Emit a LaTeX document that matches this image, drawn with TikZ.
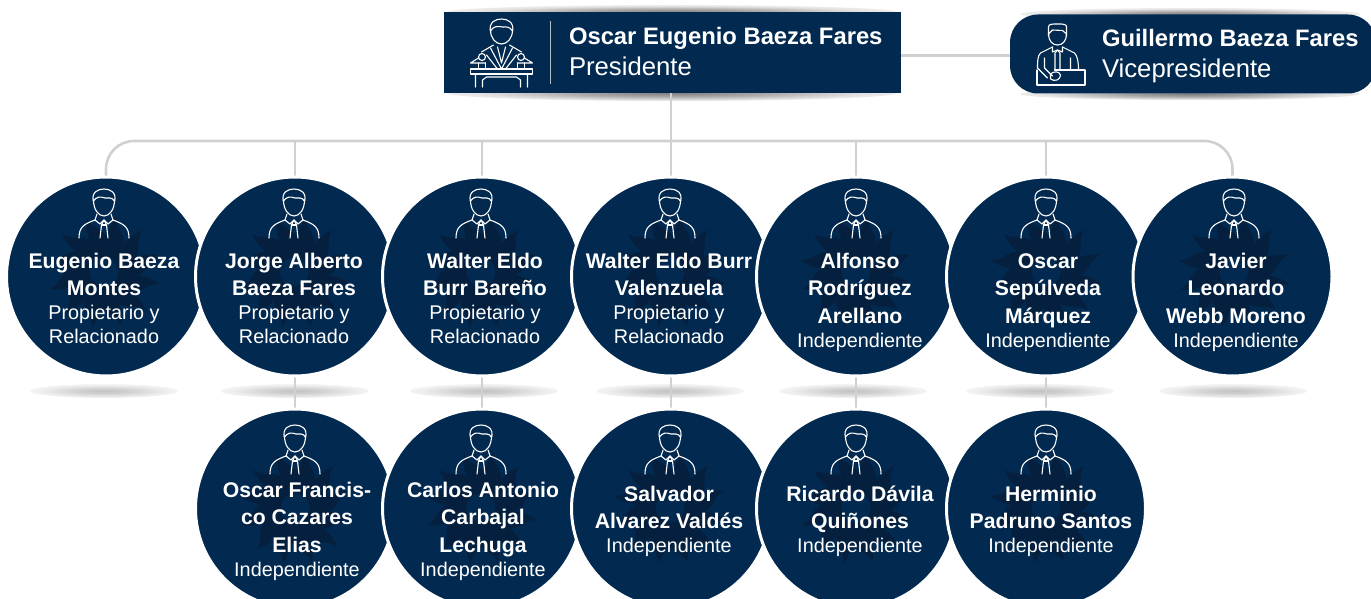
\documentclass[tikz,border=0pt]{standalone}
\usepackage{fontspec}
\setmainfont{Liberation Sans}
\usetikzlibrary{calc}
\definecolor{navy}{RGB}{2,42,80}
\definecolor{navydark}{RGB}{5,32,62}
\definecolor{linegray}{RGB}{208,208,208}
\pgfdeclareradialshading{softshadow}{\pgfpoint{0bp}{0bp}}{color(0bp)=(black!24); color(9bp)=(black!18); color(22bp)=(black!6); color(35bp)=(white); color(50bp)=(white)}
\pgfdeclareradialshading{boxshadow}{\pgfpoint{0bp}{0bp}}{color(0bp)=(black!50); color(10bp)=(black!35); color(22bp)=(black!10); color(35bp)=(white); color(50bp)=(white)}
\pgfdeclarelayer{under}
\pgfsetlayers{under,main}
\newcommand{\nl}[1]{\bfseries\fontsize{21.2}{0}\selectfont\offinterlineskip\rule[-8pt]{0pt}{27.5pt}#1}
\newcommand{\rl}[1]{\fontsize{19.8}{0}\selectfont\offinterlineskip\rule[-8pt]{0pt}{24pt}#1}
\tikzset{
  every picture/.style={x=1pt,y=-1pt},
  member/.style={circle,fill=navy,draw=white,line width=3pt,minimum size=199pt,inner sep=0pt,outer sep=0pt},
  mtext/.style={text=white,align=center,anchor=north,inner sep=0pt,outer sep=0pt,execute at begin node={\offinterlineskip}},
  toptext/.style={text=white,anchor=base west,inner sep=0pt,outer sep=0pt},
  link/.style={draw=linegray,line width=2.6pt},
  iconline/.style={draw=white,line width=1.1pt,line cap=round,line join=round,fill=none},
  softshade/.style={shading=softshadow},
  boxshade/.style={shading=boxshadow},
  pics/person/.style={code={
    \draw[iconline] (-10.5,13) .. controls (-13,3) and (-6,0) .. (0,0) .. controls (6,0) and (13,3) .. (10.5,13);
    \draw[iconline] (-10.5,11) .. controls (-10.5,20) and (-6,27) .. (0,27) .. controls (6,27) and (10.5,20) .. (10.5,11);
    \draw[iconline] (-10.5,12) .. controls (-8,8) and (-4,7) .. (1,9) .. controls (4,9) and (8,8) .. (10.5,12);
    \draw[iconline] (-25,49) .. controls (-25,38) and (-20,35) .. (-9,31);
    \draw[iconline] (25,49) .. controls (25,38) and (20,35) .. (9,31);
    \draw[iconline] (-7,25) -- (-9,31) -- (-4,35) -- (0,31) -- (4,35) -- (9,31) -- (7,25);
    \draw[iconline] (0,31) -- (-2.5,36) -- (-4,49);
    \draw[iconline] (0,31) -- (2.5,36) -- (4,49);
    \draw[iconline] (-2.5,36) -- (2.5,36);
  }},
  pics/sun/.style={code={
    \foreach \a in {0,30,...,330}{
      \fill[navydark,rotate=\a] (-7,-15) .. controls (-12,-26) and (-20,-40) .. (-17,-54)
        .. controls (-13,-45) and (-4,-44) .. (1,-38)
        .. controls (7,-32) and (7,-22) .. (6,-15) -- cycle;
    }
    \draw[navydark,line width=5pt] (0,0) circle[radius=17];
  }},
  pics/speaker/.style={code={
    \draw[iconline] (-11,13) .. controls (-13,3) and (-6,0) .. (0,0) .. controls (6,0) and (13,3) .. (11,13);
    \draw[iconline] (-11,11) .. controls (-11,19) and (-6,25) .. (0,25) .. controls (6,25) and (11,19) .. (11,11);
    \draw[iconline] (-11,12) .. controls (-8,7) and (-4,7) .. (1,8) .. controls (4,8) and (8,7) .. (11,12);
    \draw[iconline] (-31,50) rectangle (31,55);
    \draw[iconline] (-26,55) -- (-26,68) (-19,68) -- (-19,61) -- (-15,58) -- (15,58) -- (19,61) -- (19,68) (26,55) -- (26,68);
    \draw[iconline] (-8,26) -- (-20,33) (8,26) -- (20,33);
    \draw[iconline] (-11,29) -- (0,50) -- (11,29) (-4,28) -- (0,44) -- (4,28) (-15,36) -- (-4,50) (15,36) -- (4,50);
    \draw[iconline] (-19.5,38) circle[radius=3.5] (19.5,38) circle[radius=3.5];
    \draw[iconline] (-23,39) -- (-31,44) -- (-16,44) (23,39) -- (31,44) -- (16,44);
    \draw[iconline] (-23,44) -- (-23,50) (-16,44) -- (-16,50) (23,44) -- (23,50) (16,44) -- (16,50);
  }},
  pics/clerk/.style={code={
    \draw[iconline] (-9,12) -- (-9,3) .. controls (-9,0) and (-6,0) .. (0,0) .. controls (6,0) and (9,0) .. (9,3) -- (9,12);
    \draw[iconline] (-9,10) .. controls (-9,17) and (-5,21) .. (0,21) .. controls (5,21) and (9,17) .. (9,10);
    \draw[iconline] (-9,10) -- (-5,6) -- (5,6.5) -- (9,10);
    \draw[iconline] (-5,23) -- (-17,29) .. controls (-20,32) and (-20,38) .. (-20,44) -- (-10,54);
    \draw[iconline] (5,23) -- (17,29) .. controls (20,32) and (21,38) .. (21,46);
    \draw[iconline] (-5,23) -- (-5,28) -- (0,26) -- (5,28) -- (5,23);
    \draw[iconline] (0,26) -- (-2.5,29) -- (-2.5,46) (0,26) -- (2.5,29) -- (2.5,46);
    \draw[iconline] (-13,34) -- (-13,44) -- (-5,52) (13,34) -- (13,46);
    \draw[iconline] (-3,46) -- (27.5,46) -- (27.5,61) -- (-20.5,61) -- (-20.5,46);
    \draw[iconline] (-7,50) .. controls (-4,47) and (2,47) .. (3,51) .. controls (3,56) and (-3,58) .. (-7,55) -- cycle;
  }}
}
\newcommand{\member}[8]{%
  \node[member] (#1) at (#2,#3) {};
  \pic at (#4,#5) {sun};
  \pic at (#4,#5-83) {person};
  \node[mtext] (#1t) at (#6,#7) {#8};
}
\begin{document}
\begin{tikzpicture}
\clip (0,0) rectangle (1371,599);
\useasboundingbox (0,0) rectangle (1371,599);

% top boxes
\node[fill=navy,minimum width=457pt,minimum height=81pt,inner sep=0pt,outer sep=0pt] (pres) at (672.5,52.5) {};
\draw[white,line width=0.6pt,opacity=0.7] (550,21) -- (550,84);
\pic at (501.5,19) {speaker};
\node[toptext] (prest) at (569,45) {\bfseries\fontsize{23.8}{30}\selectfont Oscar Eugenio Baeza Fares};
\node[toptext] (presr) at (569,76) {\fontsize{25.7}{30}\selectfont Presidente};

\node[fill=navy,rounded corners=28pt,minimum width=366pt,minimum height=79pt,inner sep=0pt,outer sep=0pt] (vice) at (1193,54) {};
\pic at (1057.5,24) {clerk};
\node[toptext] (vicet) at (1102,47) {\bfseries\fontsize{23.8}{30}\selectfont Guillermo Baeza Fares};
\node[toptext] (vicer) at (1102,78) {\fontsize{25.7}{30}\selectfont Vicepresidente};

% row 1
\member{m1}{106}{276.5}{104}{272}{104}{248.5}{\nl{Eugenio Baeza}\\\nl{Montes}\\\rl{Propietario y}\\\rl{Relacionado}}
\member{m2}{295}{276.5}{294}{272}{294}{248.5}{\nl{Jorge Alberto}\\\nl{Baeza Fares}\\\rl{Propietario y}\\\rl{Relacionado}}
\member{m3}{482}{276.5}{481}{272}{485}{248.5}{\nl{Walter Eldo}\\\nl{Burr Bareño}\\\rl{Propietario y}\\\rl{Relacionado}}
\member{m4}{671}{276.5}{670}{272}{669}{248.5}{\nl{Walter Eldo Burr}\\\nl{Valenzuela}\\\rl{Propietario y}\\\rl{Relacionado}}
\member{m5}{856}{276.5}{856}{272}{860}{248.5}{\nl{Alfonso}\\\nl{Rodríguez}\\\nl{Arellano}\\\rl{Independiente}}
\member{m6}{1046}{276.5}{1046}{272}{1048}{248.5}{\nl{Oscar}\\\nl{Sepúlveda}\\\nl{Márquez}\\\rl{Independiente}}
\member{m7}{1232.5}{276.5}{1234}{272}{1236}{248.5}{\nl{Javier}\\\nl{Leonardo}\\\nl{Webb Moreno}\\\rl{Independiente}}
% row 2
\member{n1}{295}{508.5}{295}{508}{297}{477.5}{\nl{Oscar Francis-}\\\nl{co Cazares}\\\nl{Elias}\\\rl{Independiente}}
\member{n2}{482}{508.5}{481}{508}{483}{477.5}{\nl{Carlos Antonio}\\\nl{Carbajal}\\\nl{Lechuga}\\\rl{Independiente}}
\member{n3}{671}{508.5}{670}{508}{669}{481.5}{\nl{Salvador}\\\nl{Alvarez Valdés}\\\rl{Independiente}}
\member{n4}{856}{508.5}{856}{508}{860}{481.5}{\nl{Ricardo Dávila}\\\nl{Quiñones}\\\rl{Independiente}}
\member{n5}{1046}{508.5}{1046}{508}{1051}{481.5}{\nl{Herminio}\\\nl{Padruno Santos}\\\rl{Independiente}}

\begin{pgfonlayer}{under}
  % shadows
  \foreach \sx/\sy/\rx/\ry in {104/391/74/7,295/391/74/7,484/391/74/7,670/391/74/7,853/391/74/7,1040/391/74/7,1233/391/74/7}{
    \shade[softshade] (\sx,\sy) ellipse[x radius=\rx,y radius=\ry];
  }
  \foreach \sx/\sy/\rx/\ry in {672/12/225/7,672/93/225/8,1190/14/170/6,1190/94/170/6}{
    \shade[boxshade] (\sx,\sy) ellipse[x radius=\rx,y radius=\ry];
  }
  \coordinate (bus) at (0,141);
  \draw[link] (pres.east |- 0,55.5) -- (vice.west |- 0,55.5);
  \draw[link] (m4.north |- pres.south) -- (m4.north);
  \draw[link,rounded corners=28pt] (m1.north) -- (m1.north |- bus) -- (m7.north |- bus) -- (m7.north);
  \draw[link] (m2.north |- bus) -- (m2.north);
  \draw[link] (m3.north |- bus) -- (m3.north);
  \draw[link] (m5.north |- bus) -- (m5.north);
  \draw[link] (m6.north |- bus) -- (m6.north);
  \draw[link] (m2.south) -- (n1.north);
  \draw[link] (m3.south) -- (n2.north);
  \draw[link] (m4.south) -- (n3.north);
  \draw[link] (m5.south) -- (n4.north);
  \draw[link] (m6.south) -- (n5.north);
\end{pgfonlayer}
\end{tikzpicture}
\end{document}
